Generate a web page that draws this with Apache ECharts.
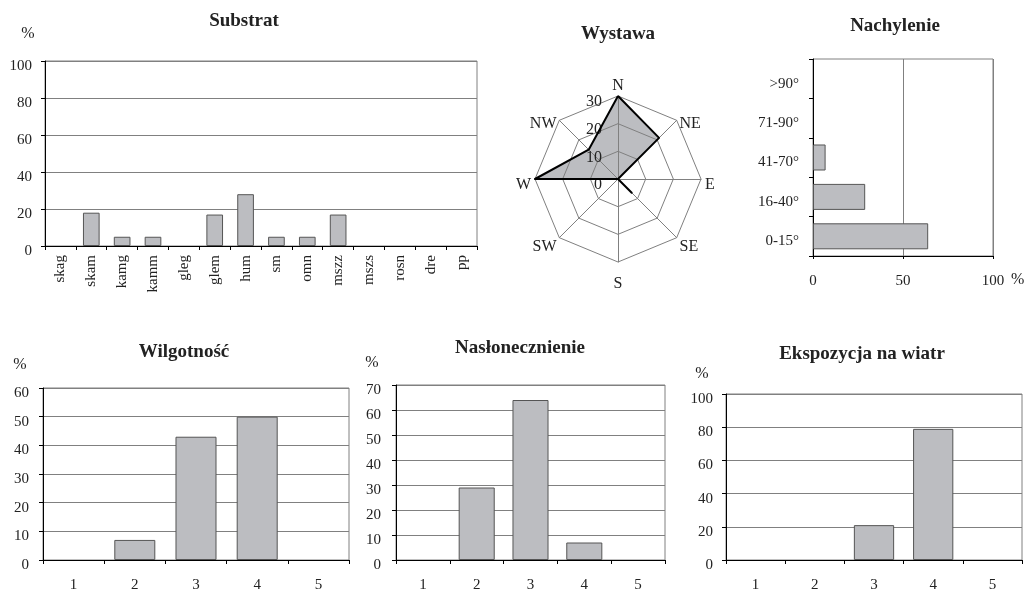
<!DOCTYPE html>
<html>
<head>
<meta charset="utf-8">
<script src="https://cdn.jsdelivr.net/npm/echarts@6/dist/echarts.min.js"></script>
<style>
  html, body { margin: 0; padding: 0; background: #fff; }
  #chart { width: 1026px; height: 592px; }
</style>
</head>
<body>
<div id="chart"></div>
<script>
// Substrate types (%)
const substratCats = ['skag', 'skam', 'kamg', 'kamm', 'gleg', 'glem', 'hum', 'sm', 'omn', 'mszz', 'mszs', 'rosn', 'dre', 'pp'];
const substratVals = [0, 18, 5, 5, 0, 17, 28, 5, 5, 17, 0, 0, 0, 0];

// Aspect (%), listed counter-clockwise starting at north
const wystawaDirs = ['N', 'NW', 'W', 'SW', 'S', 'SE', 'E', 'NE'];
const wystawaVals = [30, 15, 30, 0, 0, 7, 0, 21];

// Slope classes (%)
const nachCats = ['0-15°', '16-40°', '41-70°', '71-90°', '>90°'];
const nachVals = [64, 29, 7, 0, 0];

// Ordinal classes 1-5
const classCats = ['1', '2', '3', '4', '5'];
const wilgVals = [0, 7, 43, 50, 0];
const naslVals = [0, 29, 64, 7, 0];
const ekspVals = [0, 0, 21, 79, 0];

const FONT = '"Liberation Serif", "Times New Roman", serif';
const TXT = '#222';
const GRIDC = '#808080';
const BAR_FILL = '#bcbdc1';
const BAR_EDGE = '#555';

// empty classes get no bar at all
const bars = (vals) => vals.map(v => (v === 0 ? null : v));
// a blank leading line drops the label a few pixels below its tick
const lowered = (v) => '\n' + v;

const chart = echarts.init(document.getElementById('chart'), null, { renderer: 'canvas' });

function title(text, cx, top) {
  return {
    text, left: cx, top, textAlign: 'center', padding: 0,
    textStyle: { fontFamily: FONT, fontSize: 19, fontWeight: 'bold', color: TXT }
  };
}

function grid(left, top, width, height) {
  return {
    left, top, width, height, containLabel: false, outerBoundsMode: 'none',
    show: true, borderColor: GRIDC, borderWidth: 1, backgroundColor: 'transparent'
  };
}

function catX(gi, data, labelExtra) {
  return {
    type: 'category', gridIndex: gi, data, boundaryGap: true,
    axisLine: { show: true, lineStyle: { color: '#000', width: 1 } },
    axisTick: { show: true, interval: 0, length: 4, lineStyle: { color: '#000' } },
    axisLabel: Object.assign({ interval: 0, fontFamily: FONT, fontSize: 15, color: TXT, margin: 18 }, labelExtra || {}),
    splitLine: { show: false }
  };
}

function valY(gi, max, interval, margin, nameShift, nameGap) {
  return {
    type: 'value', gridIndex: gi, min: 0, max, interval,
    name: '%', nameLocation: 'end', nameGap,
    nameTextStyle: { fontFamily: FONT, fontSize: 16, color: TXT, padding: [0, nameShift * 2, 0, 0] },
    axisLine: { show: true, lineStyle: { color: '#000', width: 1 } },
    axisTick: { show: true, length: 4, lineStyle: { color: '#000' } },
    axisLabel: { fontFamily: FONT, fontSize: 15, color: TXT, margin, lineHeight: 10, formatter: lowered },
    splitLine: { show: true, lineStyle: { color: GRIDC, width: 1 } }
  };
}

function barSeries(xi, yi, vals, width) {
  return {
    type: 'bar', xAxisIndex: xi, yAxisIndex: yi, data: bars(vals), barWidth: width,
    itemStyle: { color: BAR_FILL, borderColor: BAR_EDGE, borderWidth: 1 },
    emphasis: { disabled: true }, animation: false
  };
}

const option = {
  backgroundColor: '#fff',
  animation: false,
  title: [
    title('Substrat', 244, 12),
    title('Wystawa', 618, 25),
    title('Nachylenie', 895, 17),
    title('Wilgotność', 184, 343),
    title('Nasłonecznienie', 520, 339),
    title('Ekspozycja na wiatr', 862, 345)
  ],
  grid: [
    grid(45, 61, 432, 185),   // Substrat
    grid(813, 59, 180, 197),  // Nachylenie
    grid(43, 388, 306, 172),  // Wilgotność
    grid(396, 385, 269, 175), // Nasłonecznienie
    grid(726, 394, 296, 166)  // Ekspozycja na wiatr
  ],
  xAxis: [
    catX(0, substratCats, { rotate: 90, margin: 9 }),
    {
      type: 'value', gridIndex: 1, min: 0, max: 100, interval: 50,
      name: '%', nameLocation: 'end', nameGap: 18,
      nameTextStyle: { fontFamily: FONT, fontSize: 16, color: TXT, verticalAlign: 'top', lineHeight: 48 },
      axisLine: { show: true, lineStyle: { color: '#000', width: 1 } },
      axisTick: { show: true, length: 3, lineStyle: { color: '#000' } },
      axisLabel: { fontFamily: FONT, fontSize: 15, color: TXT, margin: 18 },
      splitLine: { show: true, lineStyle: { color: GRIDC, width: 1 } }
    },
    catX(2, classCats),
    catX(3, classCats),
    catX(4, classCats)
  ],
  yAxis: [
    valY(0, 100, 20, 13, 17, 19),
    {
      type: 'category', gridIndex: 1, data: nachCats, boundaryGap: true,
      axisLine: { show: true, lineStyle: { color: '#000', width: 1 } },
      axisTick: { show: true, interval: 0, length: 4, lineStyle: { color: '#000' } },
      axisLabel: { interval: 0, fontFamily: FONT, fontSize: 15, color: TXT, margin: 14, lineHeight: 10, formatter: lowered },
      splitLine: { show: false }
    },
    valY(2, 60, 10, 14, 23, 15),
    valY(3, 70, 10, 15, 24, 14),
    valY(4, 100, 20, 13, 24, 12)
  ],
  radar: {
    center: [618, 179],
    radius: 83,
    startAngle: 90,
    shape: 'polygon',
    splitNumber: 3,
    nameGap: 4,
    axisName: { fontFamily: FONT, fontSize: 16, color: TXT, lineHeight: 12, formatter: lowered },
    axisLine: { lineStyle: { color: GRIDC, width: 1 } },
    splitLine: { lineStyle: { color: GRIDC, width: 1 } },
    splitArea: { show: false },
    axisTick: { show: false },
    axisLabel: { show: false },
    indicator: wystawaDirs.map((d, i) => {
      const ind = { name: d, min: 0, max: 30 };
      if (i === 0) {
        // scale labels drawn along the north axis only, set just below each ring
        ind.axisLabel = {
          show: true, showMinLabel: true, showMaxLabel: true, hideOverlap: false,
          fontFamily: FONT, fontSize: 16, color: TXT, margin: 16,
          verticalAlign: 'top', lineHeight: 12
        };
      }
      return ind;
    })
  },
  series: [
    barSeries(0, 0, substratVals, '54%'),
    barSeries(1, 1, nachVals, '66%'),
    barSeries(2, 2, wilgVals, '67%'),
    barSeries(3, 3, naslVals, '67%'),
    barSeries(4, 4, ekspVals, '68%'),
    {
      // filled area sits beneath the radar web
      type: 'radar', z: -1, symbol: 'none', silent: true,
      lineStyle: { width: 0, opacity: 0 },
      areaStyle: { color: BAR_FILL, opacity: 1 },
      data: [{ value: wystawaVals }]
    },
    {
      type: 'radar', z: 5, symbol: 'none', silent: true,
      lineStyle: { color: '#000', width: 2 },
      data: [{ value: wystawaVals }]
    }
  ]
};

chart.setOption(option);
</script>
</body>
</html>
